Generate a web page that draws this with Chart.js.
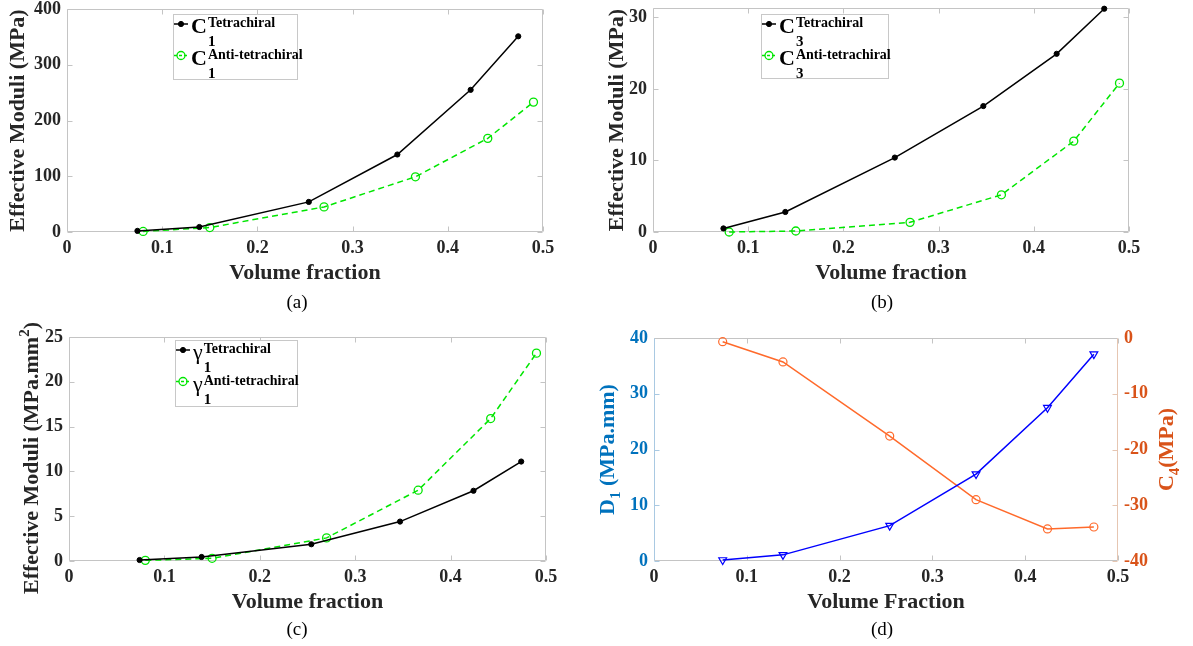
<!DOCTYPE html>
<html>
<head>
<meta charset="utf-8">
<script src="https://cdn.jsdelivr.net/npm/chart.js@4.4.1/dist/chart.umd.min.js"></script>
<style>
  html, body { margin: 0; padding: 0; background: #fff; }
  #wrap { position: relative; width: 1193px; height: 646px; }
  .pane { position: absolute; }
</style>
</head>
<body>
<div id="wrap">
  <div class="pane" style="left:0;top:0;width:596px;height:323px"><canvas id="chartA"></canvas></div>
  <div class="pane" style="left:596px;top:0;width:597px;height:323px"><canvas id="chartB"></canvas></div>
  <div class="pane" style="left:0;top:310px;width:596px;height:336px"><canvas id="chartC"></canvas></div>
  <div class="pane" style="left:596px;top:323px;width:597px;height:323px"><canvas id="chartD"></canvas></div>
</div>
<script>
// volume fractions of the two lattices
const volTetra = [0.074, 0.139, 0.254, 0.347, 0.424, 0.474];
const volAnti = [0.080, 0.150, 0.270, 0.366, 0.442, 0.490];

// (a) C1, (b) C3, (c) gamma1
const c1Tetra = [2, 9, 54, 139, 255, 351];
const c1Anti = [1, 8, 45, 99, 168, 233];
const c3Tetra = [0.5, 2.8, 10.4, 17.6, 24.9, 31.2];
const c3Anti = [0.0, 0.14, 1.35, 5.2, 12.7, 20.8];
const g1Tetra = [0.11, 0.45, 1.87, 4.4, 7.84, 11.1];
const g1Anti = [0.07, 0.3, 2.58, 7.9, 15.9, 23.2];

// (d) D1 and C4 (tetrachiral)
const d1Vals = [0.18, 1.1, 6.35, 15.6, 27.5, 37.1];
const c4Vals = [-0.66, -4.3, -17.6, -29.0, -34.25, -33.9];

const xTicks = [0, 0.1, 0.2, 0.3, 0.4, 0.5];
const yTicksA = [0, 100, 200, 300, 400];
const yTicksB = [0, 10, 20, 30];
const yTicksC = [0, 5, 10, 15, 20, 25];
const yTicksD1 = [0, 10, 20, 30, 40];
const yTicksC4 = [-40, -30, -20, -10, 0];
const legendKinds = ['Tetrachiral', 'Anti-tetrachiral'];

const SERIF = "'Liberation Serif', 'Times New Roman', 'DejaVu Serif', serif";
const TXT = '#262626';
const BLUE_AX = '#0072BD';
const ORANGE_AX = '#D95319';

Chart.defaults.font.family = SERIF;
Chart.defaults.font.size = 18;
Chart.defaults.font.weight = 'bold';
Chart.defaults.color = TXT;
Chart.defaults.animation = false;

const pts = (xs, ys) => xs.map((x, i) => ({ x: x, y: ys[i] }));

function xAxis(title, height, titlePad) {
  return {
    type: 'linear', min: 0, max: 0.5,
    grid: { display: false, drawTicks: false },
    border: { display: false },
    afterBuildTicks: s => { s.ticks = xTicks.map(v => ({ value: v })); },
    ticks: { padding: 6, maxRotation: 0, autoSkip: false, callback: v => String(v) },
    title: { display: true, text: title, color: TXT, font: { size: 22, weight: 'bold' }, padding: { top: 0, bottom: titlePad } },
    afterFit: s => { s.height = height; s.paddingLeft = 0; s.paddingRight = 0; }
  };
}

function yAxis(ticks, min, max, width, title, titlePad, pos, color) {
  return {
    type: 'linear', position: pos || 'left', min: min, max: max,
    grid: { display: false, drawTicks: false },
    border: { display: false },
    afterBuildTicks: s => { s.ticks = ticks.map(v => ({ value: v })); },
    ticks: { padding: 6, autoSkip: false, color: color || TXT, callback: v => String(v) },
    title: { display: !!title, text: title, color: TXT, font: { size: 22, weight: 'bold' }, padding: { top: titlePad, bottom: 0 } },
    afterFit: s => { s.width = width; s.paddingTop = 0; s.paddingBottom = 0; }
  };
}

function tetraSet(data) {
  return { data: data, borderColor: '#000', borderWidth: 1.5, pointRadius: 2.6, pointStyle: 'circle',
    pointBackgroundColor: '#000', pointBorderColor: '#000', pointBorderWidth: 1, tension: 0, clip: false };
}
function antiSet(data) {
  return { data: data, borderColor: 'rgb(0,230,0)', borderWidth: 1.5, borderDash: [6, 4], pointRadius: 4,
    pointStyle: 'circle', pointBackgroundColor: 'rgba(0,0,0,0)', pointBorderColor: 'rgb(0,230,0)',
    pointBorderWidth: 1.3, tension: 0, clip: false };
}

// text made of parts [{t, font, dy}], centred on x
function richWidth(ctx, parts) {
  let w = 0;
  parts.forEach(p => { ctx.font = p.font; w += ctx.measureText(p.t).width; });
  return w;
}
function drawRich(ctx, parts, x, y) {
  let cx = x - richWidth(ctx, parts) / 2;
  ctx.textAlign = 'left';
  ctx.textBaseline = 'alphabetic';
  parts.forEach(p => {
    ctx.font = p.font;
    ctx.fillText(p.t, cx, y + (p.dy || 0));
    cx += ctx.measureText(p.t).width;
  });
}

const decor = {
  id: 'decor',
  beforeDatasetsDraw(chart, args, o) {
    const ctx = chart.ctx;
    const { left, top, right, bottom } = chart.chartArea;
    const col = Object.assign({ left: '#c4c4c4', right: '#c4c4c4', top: '#c4c4c4', bottom: '#c4c4c4' }, o.sides || {});
    const L = Math.round(left) + 0.5, R = Math.round(right) - 0.5, T = Math.round(top) + 0.5, B = Math.round(bottom) - 0.5;
    const seg = (x1, y1, x2, y2, c) => {
      ctx.strokeStyle = c; ctx.beginPath(); ctx.moveTo(x1, y1); ctx.lineTo(x2, y2); ctx.stroke();
    };
    ctx.save();
    ctx.lineWidth = 1;
    const tl = 5;
    chart.scales.x.ticks.forEach(t => {
      const px = Math.round(chart.scales.x.getPixelForValue(t.value)) + 0.5;
      seg(px, B, px, B - tl, col.bottom);
      seg(px, T, px, T + tl, col.top);
    });
    const ly = chart.scales.y;
    const ry = chart.scales.y2 || chart.scales.y;
    ly.ticks.forEach(t => {
      const py = Math.round(ly.getPixelForValue(t.value)) + 0.5;
      seg(L, py, L + tl, py, col.left);
    });
    ry.ticks.forEach(t => {
      const py = Math.round(ry.getPixelForValue(t.value)) + 0.5;
      seg(R, py, R - tl, py, col.right);
    });
    seg(L, T, R, T, col.top);
    seg(L, B, R, B, col.bottom);
    seg(L, T, L, B, col.left);
    seg(R, T, R, B, col.right);
    ctx.restore();
  },
  afterDraw(chart, args, o) {
    const ctx = chart.ctx;
    ctx.save();
    const lg = o.legend;
    if (lg) {
      ctx.fillStyle = '#fff';
      ctx.fillRect(lg.x, lg.y, lg.w, lg.h);
      ctx.strokeStyle = '#c8c8c8';
      ctx.lineWidth = 1;
      ctx.strokeRect(lg.x + 0.5, lg.y + 0.5, lg.w - 1, lg.h - 1);
      chart.data.datasets.forEach((ds, i) => {
        const rowTop = lg.y + i * 31.5;
        const sy = rowTop + 10;
        ctx.strokeStyle = ds.borderColor;
        ctx.lineWidth = 1.5;
        ctx.setLineDash(ds.borderDash ? [3, 2] : []);
        ctx.beginPath(); ctx.moveTo(lg.x + 1, sy); ctx.lineTo(lg.x + 15, sy); ctx.stroke();
        ctx.setLineDash([]);
        ctx.lineWidth = ds.pointBorderWidth;
        ctx.beginPath(); ctx.arc(lg.x + 8, sy, ds.pointRadius, 0, Math.PI * 2);
        ctx.fillStyle = ds.pointBackgroundColor; ctx.fill();
        ctx.strokeStyle = ds.pointBorderColor; ctx.stroke();
        ctx.fillStyle = '#000';
        ctx.textAlign = 'left';
        ctx.textBaseline = 'alphabetic';
        ctx.font = lg.mainFont;
        const mx = lg.x + 18;
        ctx.fillText(lg.main, mx, rowTop + 19);
        const sx = mx + ctx.measureText(lg.main).width + 1;
        ctx.font = 'bold 14px ' + SERIF;
        ctx.fillText(legendKinds[i], sx, rowTop + 13);
        ctx.font = 'bold 15px ' + SERIF;
        ctx.fillText(lg.sub, sx, rowTop + 32);
      });
    }
    if (o.sideTitles) {
      const a = chart.chartArea;
      o.sideTitles.forEach(tt => {
        ctx.save();
        ctx.translate(tt.x, tt.cy !== undefined ? tt.cy : (a.top + a.bottom) / 2);
        ctx.rotate(-Math.PI / 2);
        ctx.fillStyle = tt.color;
        drawRich(ctx, tt.parts, 0, 7);
        ctx.restore();
      });
    }
    if (o.tag) {
      ctx.fillStyle = '#000';
      ctx.font = 'normal 19px ' + SERIF;
      ctx.textAlign = 'center';
      ctx.textBaseline = 'middle';
      ctx.fillText(o.tag.text, o.tag.x, o.tag.y);
    }
    ctx.restore();
  }
};

const big = 'bold 22px ' + SERIF;
const small = 'bold 15px ' + SERIF;

function baseOptions(pad, scales, decorOpts) {
  return {
    responsive: true, maintainAspectRatio: false,
    layout: { padding: pad },
    scales: scales,
    plugins: { legend: { display: false }, tooltip: { enabled: false }, decor: decorOpts }
  };
}

// (a)
new Chart(document.getElementById('chartA'), {
  type: 'line',
  data: { datasets: [tetraSet(pts(volTetra, c1Tetra)), antiSet(pts(volAnti, c1Anti))] },
  options: baseOptions({ left: 0, top: 9, right: 53, bottom: 0 }, {
    x: xAxis('Volume fraction', 91, 36),
    y: yAxis(yTicksA, 0, 400, 67, 'Effective Moduli (MPa)', 5)
  }, {
    legend: { x: 173, y: 14, w: 125, h: 66, main: 'C', sub: '1', mainFont: 'bold 22px ' + SERIF },
    tag: { text: '(a)', x: 297, y: 303 }
  }),
  plugins: [decor]
});

// (b)
new Chart(document.getElementById('chartB'), {
  type: 'line',
  data: { datasets: [tetraSet(pts(volTetra, c3Tetra)), antiSet(pts(volAnti, c3Anti))] },
  options: baseOptions({ left: 0, top: 8, right: 64, bottom: 0 }, {
    x: xAxis('Volume fraction', 91, 36),
    y: yAxis(yTicksB, 0, 31.3, 57, 'Effective Moduli (MPa)', 8)
  }, {
    legend: { x: 165, y: 14, w: 128, h: 65, main: 'C', sub: '3', mainFont: 'bold 22px ' + SERIF },
    tag: { text: '(b)', x: 286, y: 303 }
  }),
  plugins: [decor]
});

// (c) canvas starts 13px higher so the long axis title is not cut
new Chart(document.getElementById('chartC'), {
  type: 'line',
  data: { datasets: [tetraSet(pts(volTetra, g1Tetra)), antiSet(pts(volAnti, g1Anti))] },
  options: baseOptions({ left: 0, top: 27, right: 50, bottom: 0 }, {
    x: xAxis('Volume fraction', 85, 30),
    y: yAxis(yTicksC, 0, 25, 69, '', 0)
  }, {
    legend: { x: 175, y: 30, w: 123, h: 67, main: 'γ', sub: '1', mainFont: 'normal 22px ' + SERIF },
    sideTitles: [
      { x: 31, cy: 148, color: TXT, parts: [{ t: 'Effective Moduli (MPa.mm', font: big }, { t: '2', font: small, dy: -9 }, { t: ')', font: big }] }
    ],
    tag: { text: '(c)', x: 297, y: 320 }
  }),
  plugins: [decor]
});

// (d)
new Chart(document.getElementById('chartD'), {
  type: 'line',
  data: {
    datasets: [
      { data: pts(volTetra, d1Vals), yAxisID: 'y', borderColor: '#0000ff', borderWidth: 1.5, tension: 0,
        pointStyle: 'triangle', pointRotation: 180, pointRadius: 4.5, pointBorderWidth: 1.2,
        pointBackgroundColor: 'rgba(0,0,0,0)', pointBorderColor: '#0000ff', clip: false },
      { data: pts(volTetra, c4Vals), yAxisID: 'y2', borderColor: '#ff6a2b', borderWidth: 1.5, tension: 0,
        pointStyle: 'circle', pointRadius: 4, pointBorderWidth: 1.2,
        pointBackgroundColor: 'rgba(0,0,0,0)', pointBorderColor: '#ff6a2b', clip: false }
    ]
  },
  options: baseOptions({ left: 0, top: 15, right: 0, bottom: 0 }, {
    x: xAxis('Volume Fraction', 85, 30),
    y: yAxis(yTicksD1, 0, 40, 58, '', 0, 'left', BLUE_AX),
    y2: yAxis(yTicksC4, -40, 0, 75, '', 0, 'right', ORANGE_AX)
  }, {
    sides: { left: '#a9c9e2', right: '#e6c6b2' },
    sideTitles: [
      { x: 11, color: BLUE_AX, parts: [{ t: 'D', font: big }, { t: '1', font: small, dy: 6 }, { t: ' (MPa.mm)', font: big }] },
      { x: 570, color: ORANGE_AX, parts: [{ t: 'C', font: big }, { t: '4', font: small, dy: 6 }, { t: '(MPa)', font: big }] }
    ],
    tag: { text: '(d)', x: 286, y: 307 }
  }),
  plugins: [decor]
});
</script>
</body>
</html>
